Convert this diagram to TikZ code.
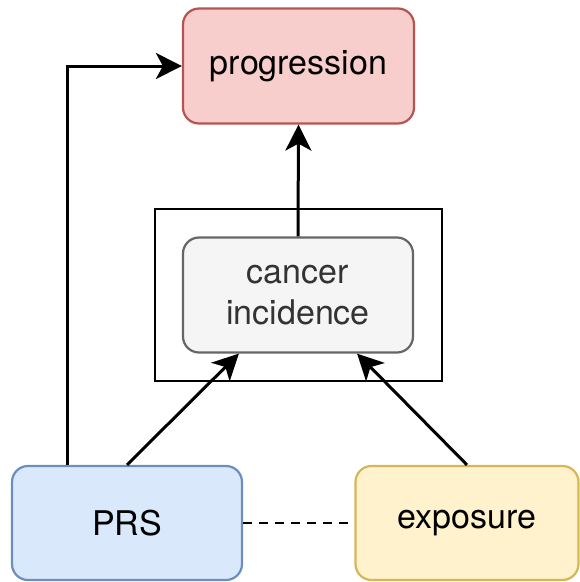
\documentclass[tikz,border=0pt]{standalone}
\usepackage{fontspec}
\setmainfont{TeX Gyre Heros}
\usetikzlibrary{arrows.meta}
\definecolor{redfill}{HTML}{F8CECC}
\definecolor{reddraw}{HTML}{B85450}
\definecolor{grayfill}{HTML}{F5F5F5}
\definecolor{graydraw}{HTML}{666666}
\definecolor{graytext}{HTML}{333333}
\definecolor{bluefill}{HTML}{DAE8FC}
\definecolor{bluedraw}{HTML}{6C8EBF}
\definecolor{yellowfill}{HTML}{FFF2CC}
\definecolor{yellowdraw}{HTML}{D6B656}
\tikzset{
  box/.style={rectangle, rounded corners=16pt, line width=2.2pt, inner sep=0pt,
    minimum height=115pt, align=center, font=\fontsize{34}{41}\selectfont},
  arr/.style={line width=3pt, -{Stealth[length=26pt,width=26pt,inset=7pt]}},
}
\begin{document}
\begin{tikzpicture}[x=1pt,y=-1pt]
\useasboundingbox (0,0) rectangle (580,582);
\node[draw=black, line width=2.8pt, minimum width=287pt, minimum height=172pt, inner sep=0pt] (outer) at (298.5,295) {};
\node[box, fill=redfill, draw=reddraw, minimum width=231pt] (prog) at (298.5,66) {progression};
\node[box, fill=grayfill, draw=graydraw, text=graytext, minimum width=230pt] (cancer) at (298,295) {cancer\\incidence};
\node[box, fill=bluefill, draw=bluedraw, minimum width=230pt, minimum height=114pt] (prs) at (127,523) {PRS};
\node[box, fill=yellowfill, draw=yellowdraw, minimum width=223pt, minimum height=114pt] (expo) at (467,523) {exposure};
\draw[arr] (cancer.north) -- (prog.south);
\draw[arr] (prs.north) -- ([xshift=57pt]cancer.south west);
\draw[arr] (expo.north) -- ([xshift=-57pt]cancer.south east);
\draw[arr] ([xshift=57pt]prs.north west) |- (prog.west);
\draw[line width=2.6pt, dash pattern=on 9pt off 7pt] (prs.east) -- (expo.west);
\end{tikzpicture}
\end{document}
